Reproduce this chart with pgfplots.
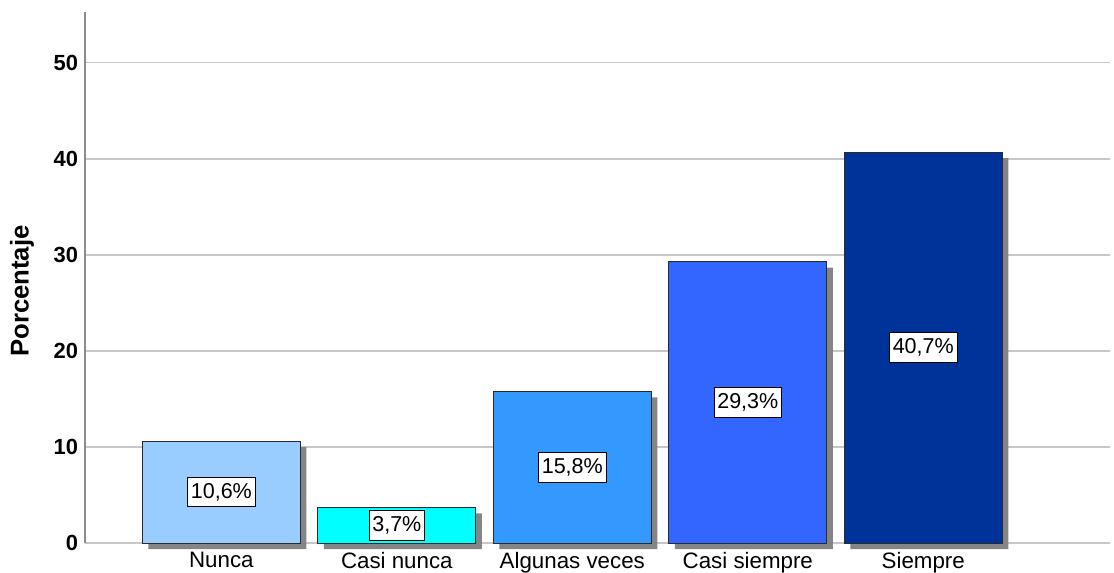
\documentclass[border=0pt]{standalone}
\usepackage{fontspec}
\setmainfont{Liberation Sans}
\usepackage{pgfplots}
\pgfplotsset{compat=1.18}
\definecolor{cA}{HTML}{99CCFF}
\definecolor{cB}{HTML}{00FFFF}
\definecolor{cC}{HTML}{3399FF}
\definecolor{cD}{HTML}{3366FF}
\definecolor{cE}{HTML}{003399}
\definecolor{shadowgray}{HTML}{858585}
\definecolor{gridgray}{HTML}{C8C8C8}
\definecolor{axisgray}{HTML}{8C8C8C}
\definecolor{edge}{HTML}{2A2A2A}
\begin{document}
\begin{tikzpicture}
\begin{axis}[
 at={(0,0)}, anchor=south west, scale only axis,
 width=512.5bp, height=265.5bp,
 xmin=-0.777, xmax=5.064, ymin=0, ymax=55.3,
 ybar, bar width=0.9, bar shift=0pt,
 clip=false,
 axis lines*=left,
 x axis line style={draw=none},
 y axis line style={draw=axisgray, line width=0.8bp, -},
 ymajorgrids, grid style={draw=gridgray, line width=0.6bp},
 ytick={0,10,20,30,40,50},
 xtick={0,1,2,3,4},
 xticklabels={Nunca, Casi nunca, Algunas veces, Casi siempre, Siempre},
 major tick length=0pt,
 tick style={draw=none},
 /pgf/number format/assume math mode=true,
 yticklabel style={font=\bfseries\fontsize{11}{13}\selectfont, text=black},
 xticklabel style={font=\fontsize{11.2}{13}\selectfont, text=black, yshift=-1.2bp},
 ylabel={Porcentaje},
 ylabel style={font=\bfseries\fontsize{12.9}{15}\selectfont, at={(axis description cs:-0.0615,0.4746)}, anchor=center},
 lbl/.style={
   nodes near coords={\pgfmathprintnumber[assume math mode=true,use comma,fixed,fixed zerofill,precision=1]{\pgfplotspointmeta}\%},
   point meta=y,
   visualization depends on=rawy \as \rawy,
   every node near coord/.append style={anchor=center, shift={(axis direction cs:0,-0.5*\rawy)}, fill=white, draw=black, line width=0.5bp, inner xsep=1.6bp, inner ysep=3bp, font=\fontsize{10.8}{12}\selectfont, text=black}
 },
]
\addplot[fill=shadowgray, draw=none, xshift=3bp, yshift=-3bp] coordinates {(0,10.6) (1,3.7) (2,15.8) (3,29.3) (4,40.7)};
\addplot[fill=cA, draw=edge, line width=0.5bp, lbl] coordinates {(0,10.6)};
\addplot[fill=cB, draw=edge, line width=0.5bp, lbl] coordinates {(1,3.7)};
\addplot[fill=cC, draw=edge, line width=0.5bp, lbl] coordinates {(2,15.8)};
\addplot[fill=cD, draw=edge, line width=0.5bp, lbl] coordinates {(3,29.3)};
\addplot[fill=cE, draw=edge, line width=0.5bp, lbl] coordinates {(4,40.7)};
\end{axis}
\pgfresetboundingbox
\path[use as bounding box] (-42.5bp,-15bp) rectangle (514.5bp,271.5bp);
\end{tikzpicture}
\end{document}
